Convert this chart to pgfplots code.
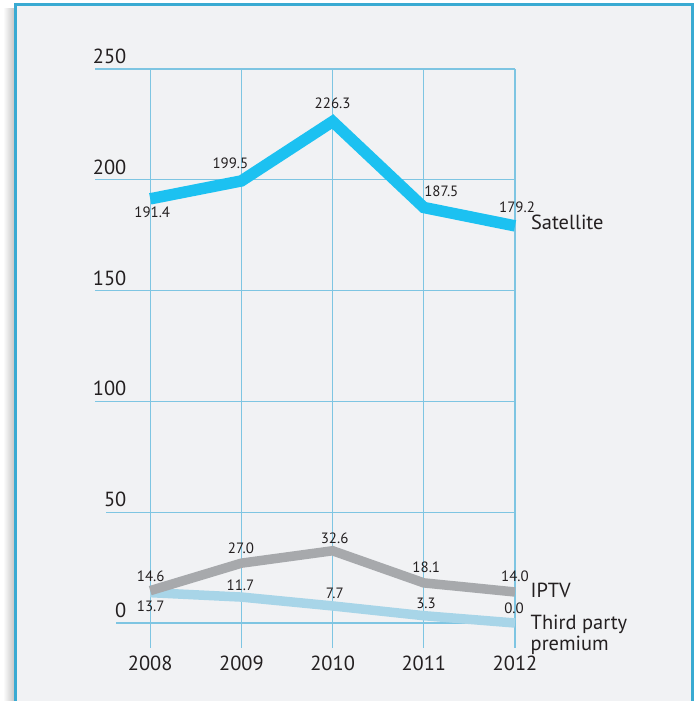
\documentclass[border=0pt]{standalone}
\usepackage{fontspec}
\setmainfont{PT Sans}
\usepackage{pgfplots}
\usepackage{pgfplotstable}
\pgfplotsset{compat=1.18}

\definecolor{bgcol}{RGB}{241,242,244}
\definecolor{framecol}{RGB}{57,170,210}
\definecolor{gridcol}{RGB}{126,197,226}
\definecolor{satcol}{RGB}{28,193,241}
\definecolor{iptvcol}{RGB}{167,169,172}
\definecolor{thirdcol}{RGB}{168,213,232}
\definecolor{txt}{RGB}{35,31,32}

% x, value, printed label, and where the label sits (lx, ly)
\pgfplotstableread{
x y lab lx ly
2008 191.4 191.4 2008.022 185.53
2009 199.5 199.5 2008.879 207.62
2010 226.3 226.3 2010.000 234.65
2011 187.5 187.5 2011.192 194.72
2012 179.2 179.2 2012.022 187.55
}\satdata
\pgfplotstableread{
x y lab lx ly
2008 14.6 14.6 2008.005 21.19
2009 27.0 27.0 2008.995 33.86
2010 32.6 32.6 2010.022 38.38
2011 18.1 18.1 2011.027 25.32
2012 14.0 14.0 2012.000 20.90
}\iptvdata
\pgfplotstableread{
x y lab lx ly
2008 13.7 13.7 2008.005 7.38
2009 11.7 11.7 2008.989 17.12
2010 7.7 7.7 2010.025 13.57
2011 3.3 3.3 2011.025 8.72
2012 0.0 0.0 2011.989 6.77
}\thirddata

\pgfplotsset{
  vallabels/.style={draw=none, mark=none,
    nodes near coords={\pgfplotspointmeta},
    point meta=explicit symbolic,
    every node near coord/.append style={anchor=center, inner sep=0pt,
        text=txt, font=\fontsize{15}{18}\selectfont}},
}
\tikzset{
  serieslabel/.style={pos=1, anchor=base west, inner sep=0pt, text=txt,
    font=\fontsize{20.5}{24}\selectfont},
}

\begin{document}
\begin{tikzpicture}
\useasboundingbox (0bp,0bp) rectangle (694bp,701bp);
\shade[left color=white, right color=black!22] (3bp,0bp) rectangle (14bp,692bp);
\fill[bgcol] (15bp,0bp) rectangle (693bp,697bp);
\draw[framecol, line width=2.8bp] (15.4bp,0bp) -- (15.4bp,696.4bp) -- (692.6bp,696.4bp) -- (692.6bp,0bp);

\begin{axis}[
    at={(95.25bp,53bp)}, anchor=south west,
    scale only axis, width=419.75bp, height=579bp,
    xmin=2007.397, xmax=2012, ymin=-11.28, ymax=250,
    clip=false,
    axis line style={draw=none},
    major tick length=0pt,
    xtick={2008,2009,2010,2011,2012},
    ytick={0,50,100,150,200,250},
    xmajorgrids,
    grid style={gridcol, line width=1.2bp},
    /pgf/number format/1000 sep={},
    /pgf/number format/assume math mode=true,
    ticklabel style={font=\fontsize{20.5}{24}\selectfont, text=txt, inner sep=0pt},
    yticklabel style={anchor=south east, xshift=31.25bp, yshift=5bp},
    xticklabel style={anchor=north, yshift=-8bp},
    line join=miter,
]
% horizontal rules start at the left edge of each tick label
\draw[gridcol, line width=1.2bp] (axis cs:2007.627,0) -- (axis cs:2012,0);
\draw[gridcol, line width=1.2bp] (axis cs:2007.518,50) -- (axis cs:2012,50);
\draw[gridcol, line width=1.2bp] (axis cs:2007.397,100) -- (axis cs:2012,100);
\draw[gridcol, line width=1.2bp] (axis cs:2007.397,150) -- (axis cs:2012,150);
\draw[gridcol, line width=1.2bp] (axis cs:2007.397,200) -- (axis cs:2012,200);
\draw[gridcol, line width=1.2bp] (axis cs:2007.397,250) -- (axis cs:2012,250);

\addplot[thirdcol, line width=9.5bp, mark=none] table[x=x, y=y] {\thirddata}
  node[serieslabel, text depth=0pt, xshift=11bp, yshift=-6.5bp] {Third party}
  node[serieslabel, xshift=11bp, yshift=-27bp] {premium};
\addplot[iptvcol, line width=9.5bp, mark=none] table[x=x, y=y] {\iptvdata}
  node[serieslabel, xshift=11bp, yshift=-6bp] {IPTV};
\addplot[satcol, line width=11.5bp, mark=none] table[x=x, y=y] {\satdata}
  node[serieslabel, xshift=10.3bp, yshift=-4bp] {Satellite};

\addplot[vallabels] table[x=lx, y=ly, meta=lab] {\thirddata};
\addplot[vallabels] table[x=lx, y=ly, meta=lab] {\iptvdata};
\addplot[vallabels] table[x=lx, y=ly, meta=lab] {\satdata};
\end{axis}
\end{tikzpicture}
\end{document}
